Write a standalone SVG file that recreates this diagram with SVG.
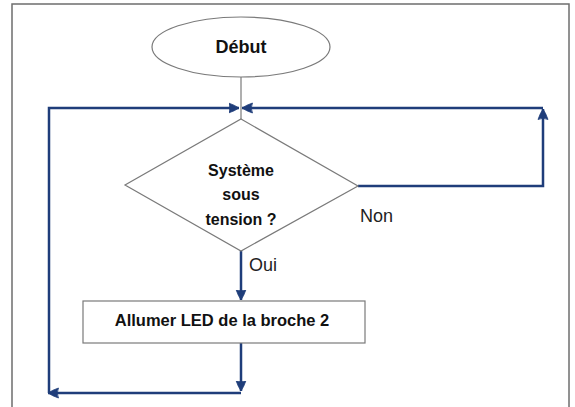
<svg xmlns="http://www.w3.org/2000/svg" width="575" height="407" viewBox="0 0 575 407">
  <defs>
    <marker id="arr" markerUnits="userSpaceOnUse" markerWidth="12" markerHeight="12" viewBox="0 0 12 12" refX="10.5" refY="6" orient="auto">
      <path d="M0,1 Q6,3 10.5,6 Q6,9 0,11 Q2.5,6 0,1 Z" fill="#1f3d7a" stroke="#1f3d7a" stroke-width="0.8"/>
    </marker>
  </defs>
  <style>
    .frame { fill: #ffffff; stroke: #6e6e6e; stroke-width: 1.5; }
    .shape { fill: #ffffff; stroke: #7a7a7a; stroke-width: 1.2; }
    .thin { fill: none; stroke: #7a7a7a; stroke-width: 1.2; }
    .flow { fill: none; stroke: #1f3d7a; stroke-width: 2.5; stroke-linejoin: miter; }
    .bold { font-family: "Liberation Sans", Arial, sans-serif; font-weight: bold; fill: #111111; text-anchor: middle; }
    .lbl { font-family: "Liberation Sans", Arial, sans-serif; font-size: 18px; fill: #222222; }
  </style>
  <rect class="frame" x="12" y="4" width="557" height="420"/>
  <g id="connectors">
    <line class="thin" x1="241" y1="77" x2="241" y2="119"/>
    <path class="flow" d="M358,186 H543 V109" marker-end="url(#arr)"/>
    <path class="flow" d="M543,108 H242" marker-end="url(#arr)"/>
    <path class="flow" d="M241,250 V300" marker-end="url(#arr)"/>
    <path class="flow" d="M241,343 V391" marker-end="url(#arr)"/>
    <path class="flow" d="M241,393 H48" marker-end="url(#arr)"/>
    <path class="flow" d="M49,393 V108 H239" marker-end="url(#arr)"/>
    <text class="lbl" x="360" y="222">Non</text>
    <text class="lbl" x="249" y="271">Oui</text>
  </g>
  <g id="debut">
    <ellipse class="shape" cx="241" cy="47" rx="89" ry="30"/>
    <text class="bold" x="241" y="53" font-size="18">Début</text>
  </g>
  <g id="decision">
    <polygon class="shape" points="241,119 358,186 241,251 125,185"/>
    <text class="bold" font-size="16" x="241" y="176">Système</text>
    <text class="bold" font-size="16" x="241" y="200">sous</text>
    <text class="bold" font-size="16" x="241" y="225">tension ?</text>
  </g>
  <g id="action">
    <rect class="shape" x="83" y="301" width="282" height="42"/>
    <text class="bold" font-size="16.5" x="222" y="326">Allumer LED de la broche 2</text>
  </g>
</svg>
